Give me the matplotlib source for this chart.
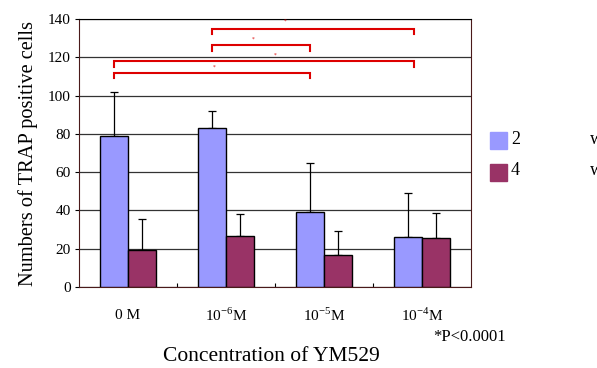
import numpy as np
import matplotlib.pyplot as plt

plt.rcParams['font.family'] = ['Liberation Serif', 'DejaVu Serif']
plt.rcParams['mathtext.fontset'] = 'custom'
plt.rcParams['mathtext.rm'] = 'Liberation Serif'

# data
groups = ['0 M', r'10$^{-6}$M', r'10$^{-5}$M', r'10$^{-4}$M']
wk2 = [79, 83, 39, 26]
wk2_err = [23, 9, 26, 23]
wk4 = [19.5, 26.5, 16.5, 25.5]
wk4_err = [16, 11.5, 13, 13]
series_names = ['2', '4']
# significance brackets: (from x, to x, height)
brackets = [(0.86, 2.92, 135), (0.86, 1.86, 126.5), (-0.14, 2.92, 118), (-0.14, 1.86, 112)]
star_pos = [(1.6, 139), (1.28, 129.5), (1.5, 121), (0.88, 115)]

fig = plt.figure(figsize=(5.97, 3.68), dpi=100)
ax = fig.add_axes([0.1323, 0.22, 0.657, 0.728])

x = np.arange(len(groups))
w = 0.286
ax.bar(x - w/2, wk2, w, color='#9999FF', edgecolor='black', lw=1, zorder=3)
ax.bar(x + w/2, wk4, w, color='#993366', edgecolor='black', lw=1, zorder=3)
ax.errorbar(x - w/2, wk2, yerr=[np.zeros(4), wk2_err], fmt='none', ecolor='black',
            elinewidth=0.9, capsize=3, capthick=0.9, zorder=2)
ax.errorbar(x + w/2, wk4, yerr=[np.zeros(4), wk4_err], fmt='none', ecolor='black',
            elinewidth=0.9, capsize=3, capthick=0.9, zorder=2)

for x0, x1, yb in brackets:
    ax.plot([x0, x0, x1, x1], [yb - 3, yb, yb, yb - 3], color='#DD0000', lw=1.5,
            solid_joinstyle='miter', zorder=4, clip_on=False)
for sx, sy in star_pos:
    ax.text(sx, sy, '*', color='#DD0000', fontsize=4, ha='center', va='center')

ax.set_xlim(-0.5, 3.5)
ax.set_ylim(0, 140)
ax.set_yticks(np.arange(0, 141, 20))
ax.set_yticklabels([str(v) for v in range(0, 141, 20)], fontsize=11)
ax.yaxis.grid(True, color='#333333', lw=0.9, zorder=0)
ax.set_axisbelow(True)
ax.tick_params(axis='y', length=3, width=0.8, direction='out', pad=3)

ax.set_xticks([0.5, 1.5, 2.5])
ax.set_xticklabels([])
ax.tick_params(axis='x', length=3, width=0.8, direction='in')
for i, g in enumerate(groups):
    ax.text(i, -15, g, ha='center', va='center', fontsize=11)
ax.text(3.48, -26, '*P<0.0001', ha='center', va='center', fontsize=12)

for s in ['left', 'right', 'bottom']:
    ax.spines[s].set_color('#4a1a1a')
ax.spines['top'].set_color('black')

ax.set_ylabel('Numbers of TRAP positive cells', fontsize=14.7, labelpad=7)
fig.text(0.455, 0.03, 'Concentration of YM529', ha='center', va='center', fontsize=15.5)

# legend drawn like the original
cols = ['#9999FF', '#993366']
for k, (nm, c) in enumerate(zip(series_names, cols)):
    yy = 0.617 - k * 0.085
    fig.patches.append(plt.Rectangle((0.821, yy - 0.023), 0.028, 0.046, color=c,
                                     transform=fig.transFigure, figure=fig))
    fig.text(0.856, yy + 0.005, nm, fontsize=13, va='center')
    fig.text(0.988, yy + 0.005, 'weeks', fontsize=13, va='center')

fig.savefig('out.png', dpi=100)
